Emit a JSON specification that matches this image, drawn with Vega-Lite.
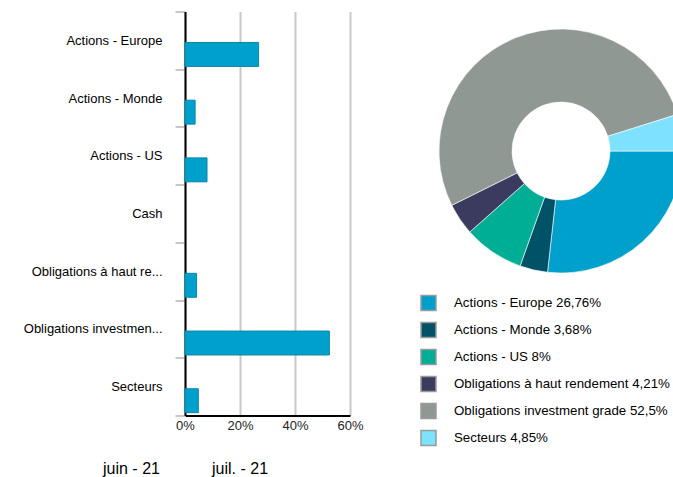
{
  "$schema": "https://vega.github.io/schema/vega-lite/v6.json",
  "padding": {"left": 23, "top": 5.5, "right": 0, "bottom": 0},
  "config": {"view": {"stroke": null}, "font": "Liberation Sans"},
  "resolve": {"scale": {"color": "independent", "theta": "independent"}, "legend": {"color": "independent"}},
  "data": {"values": [
    {"category": "Actions - Europe", "value": 26.76, "period": "juil. - 21"},
    {"category": "Actions - Monde", "value": 3.68, "period": "juil. - 21"},
    {"category": "Actions - US", "value": 8, "period": "juil. - 21"},
    {"category": "Cash", "value": 0, "period": "juil. - 21"},
    {"category": "Obligations à haut rendement", "value": 4.21, "period": "juil. - 21"},
    {"category": "Obligations investment grade", "value": 52.5, "period": "juil. - 21"},
    {"category": "Secteurs", "value": 4.85, "period": "juil. - 21"}
  ]},
  "hconcat": [
    {
      "width": 165,
      "height": 404,
      "mark": {"type": "bar", "stroke": "#0b86a8", "strokeWidth": 1},
      "encoding": {
        "y": {
          "field": "category", "type": "nominal", "sort": null,
          "scale": {"paddingInner": 0, "paddingOuter": 0},
          "axis": {
            "title": null, "domainColor": "black", "domainWidth": 2,
            "tickColor": "#c8c8c8", "tickWidth": 2, "tickSize": 10, "tickBand": "extent",
            "labelFontSize": 13, "labelColor": "black", "labelPadding": 13, "labelLimit": 300,
            "labelExpr": "length(datum.label) > 22 ? slice(datum.label, 0, 21) + '...' : datum.label"
          }
        },
        "yOffset": {
          "field": "period", "type": "nominal",
          "scale": {"domain": ["juin - 21", "juil. - 21"], "paddingInner": 0.15, "paddingOuter": 0.1}
        },
        "x": {
          "field": "value", "type": "quantitative",
          "scale": {"domain": [0, 60], "nice": false},
          "axis": {
            "title": null, "values": [0, 20, 40, 60], "labelExpr": "datum.value + '%'",
            "grid": true, "gridColor": "#c8c8c8", "gridWidth": 2,
            "domainColor": "black", "domainWidth": 2, "ticks": false, "labelFlush": false,
            "labelFontSize": 13, "labelColor": "#222222", "labelPadding": 4
          }
        },
        "strokeOpacity": {"condition": {"test": "datum.value == 0", "value": 0}, "value": 1},
        "color": {
          "field": "period", "type": "nominal",
          "scale": {"domain": ["juin - 21", "juil. - 21"], "range": ["#ffffff", "#00a0cc"]},
          "legend": {
            "title": null, "orient": "none", "legendX": -98, "legendY": 449,
            "direction": "horizontal", "columns": 2, "columnPadding": 36,
            "symbolSize": 0, "symbolOpacity": 0, "symbolStrokeWidth": 0, "labelOffset": 0,
            "labelFontSize": 16, "labelColor": "black", "padding": 0
          }
        }
      }
    },
    {
      "width": 244,
      "height": 279,
      "transform": [
        {"filter": "datum.value > 0"},
        {"window": [{"op": "row_number", "as": "rank"}]},
        {"calculate": "datum.category + ' ' + replace(toString(datum.value), '.', ',') + '%'", "as": "label"}
      ],
      "mark": {"type": "arc", "innerRadius": 49, "outerRadius": 122, "stroke": "white", "strokeWidth": 0.6},
      "encoding": {
        "theta": {"field": "value", "type": "quantitative", "stack": true, "scale": {"range": [1.5708, 7.8540]}},
        "order": {"field": "rank", "type": "quantitative"},
        "color": {
          "field": "label", "type": "nominal", "sort": null,
          "scale": {"range": ["#00a0cc", "#005266", "#00ad95", "#3b3b5f", "#8f9893", "#7ee1fd"]},
          "legend": {
            "title": null, "orient": "none", "legendX": -19, "legendY": 283,
            "symbolType": "square", "symbolSize": 225, "symbolStrokeColor": "#9a9a9a", "symbolStrokeWidth": 1.5,
            "rowPadding": 6, "labelOffset": 17, "labelFontSize": 13.3, "labelColor": "black",
            "labelLimit": 300, "padding": 0
          }
        }
      }
    }
  ],
  "spacing": 56
}
